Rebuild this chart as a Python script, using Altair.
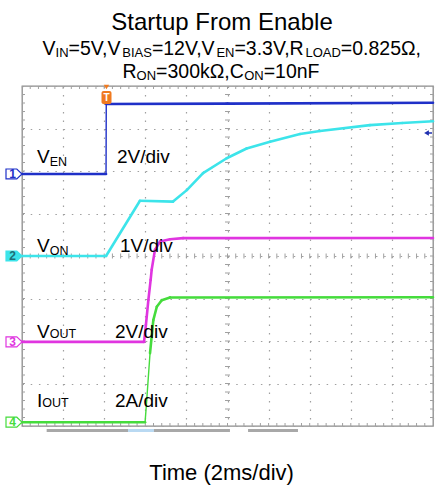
import altair as alt
import pandas as pd

# ---------------- data read from the scope screen ----------------
# time in ms (2 ms/div, 10 divisions), values in physical units
ven_t = [0.0, 4.09, 4.10, 10.0, 20.0]
ven_v = [0.0, 0.0, 3.29, 3.31, 3.35]

von_t = [0.0, 4.09, 5.74, 7.35, 8.02, 8.81, 9.96, 10.93, 12.07, 13.53, 14.50, 16.93, 18.50, 20.0]
von_v = [0.0, 0.0, 1.30, 1.28, 1.55, 1.95, 2.30, 2.53, 2.69, 2.87, 2.94, 3.08, 3.13, 3.17]

vout_t = [0.0, 5.94, 6.03, 6.15, 6.26, 6.31, 6.47, 6.72, 7.20, 7.84, 20.0]
vout_v = [0.0, 0.0, 0.80, 1.98, 2.92, 3.39, 4.33, 4.72, 4.83, 4.88, 4.89]

iout_t = [0.0, 5.99, 6.07, 6.23, 6.39, 6.56, 6.80, 7.20, 20.0]
iout_a = [0.0, 0.0, 1.04, 3.25, 4.80, 5.43, 5.74, 5.87, 5.88]

ch_names = ["VEN", "VON", "VOUT", "IOUT"]
ch_per_div = [2.0, 1.0, 2.0, 2.0]        # units per division
ch_ground = [5.93, 4.0, 1.98, 0.09]      # ground marker level (div from bottom)
ch_colors = ["#1f30c8", "#3ce4ea", "#e035e0", "#45dc3c"]
ch_digits = ["1", "2", "3", "4"]

trigger_t = 4.09
title = "Startup From Enable"
sub1 = [("V", "m"), ("IN", "s"), ("=5V,V", "m"), ("BIAS", "s"), ("=12V,V", "m"),
        ("EN", "s"), ("=3.3V,R", "m"), ("LOAD", "s"), ("=0.825Ω,", "m")]
sub2 = [("R", "m"), ("ON", "s"), ("=300kΩ,C", "m"), ("ON", "s"), ("=10nF", "m")]
xlabel = "Time (2ms/div)"
lbl_names = [[("V", "m"), ("EN", "s")], [("V", "m"), ("ON", "s")],
             [("V", "m"), ("OUT", "c")], [("I", "m"), ("OUT", "c")]]
lbl_scales = ["2V/div", "1V/div", "2V/div", "2A/div"]

# ---------------- layout helpers ----------------
L, T, W, H = 22, 86, 411, 340
XMAX, YMAX = 20.0, 8.0
FONT = "Liberation Sans"


def px2ms(px):
    return (px - L) / W * XMAX


def py2div(py):
    return (T + H - py) / H * YMAX


ARIAL = {' ': 278, ',': 278, '.': 278, '=': 584, '/': 278, '(': 333, ')': 333,
         'A': 667, 'B': 667, 'C': 722, 'D': 722, 'E': 667, 'F': 611, 'I': 278,
         'L': 556, 'N': 722, 'O': 778, 'R': 722, 'S': 667, 'T': 611, 'U': 722,
         'V': 667, 'a': 556, 'b': 556, 'd': 556, 'e': 556, 'i': 222, 'k': 500,
         'l': 222, 'm': 833, 'n': 556, 'o': 556, 'p': 556, 'r': 333, 's': 500,
         't': 278, 'u': 556, 'v': 500, 'Ω': 768}
for d in "0123456789":
    ARIAL[d] = 556


def text_w(s, size):
    return sum(ARIAL.get(c, 556) for c in s) * size / 1000.0


text_rows = []


def run(pieces, x0, base, big, small, drop=3.0, center=False, color="#000000"):
    sizes = [big if k == "m" else small for _, k in pieces]
    widths = [text_w(t, s) for (t, _), s in zip(pieces, sizes)]
    x = x0 - sum(widths) / 2 if center else x0
    for (t, k), s, w in zip(pieces, sizes, widths):
        y = base + (drop if k == "s" else 0)
        text_rows.append({"x": px2ms(x), "y": py2div(y), "text": t, "size": s, "color": color})
        x += w


run([(title, "m")], 222, 30, 24, 24, center=True)
run(sub1, 232, 54.5, 19.5, 13, drop=2.0, center=True)
run(sub2, 221, 78, 19.5, 13, drop=2.0, center=True)
run([(xlabel, "m")], 222, 480, 22, 22, center=True)
lbl_base = [163, 252, 338, 407]
lbl_x2 = [117, 120, 115, 115]
for pieces, sc, b, x2 in zip(lbl_names, lbl_scales, lbl_base, lbl_x2):
    run(pieces, 37, b, 19, 12.5)
    run([(sc, "m")], x2, b, 19, 19)
text_df = pd.DataFrame(text_rows)

xs = alt.Scale(domain=[0, XMAX], nice=False, zero=False)
ys = alt.Scale(domain=[0, YMAX], nice=False, zero=False)
xaxis = alt.Axis(values=list(range(0, 21, 2)), grid=True, labels=False, ticks=False,
                 domain=False, title=None, gridDash=[1.5, 7.0], gridColor="#a0a0a0", gridWidth=1.2)
yaxis = alt.Axis(values=list(range(0, 9)), grid=True, labels=False, ticks=False,
                 domain=False, title=None, gridDash=[1.5, 6.72], gridColor="#a0a0a0", gridWidth=1.2)


def X(f):
    return alt.X(f, type="quantitative", scale=xs, axis=xaxis)


def Y(f):
    return alt.Y(f, type="quantitative", scale=ys, axis=yaxis)


def X2(f):
    return alt.X2(f)


def Y2(f):
    return alt.Y2(f)


layers = []

# scope graticule tick marks (frame edges and centre cross)
segs = []
dx3, dy3 = 3 / W * XMAX, 3 / H * YMAX
dxc, dyc = 2.5 / W * XMAX, 2.5 / H * YMAX
for k in range(1, 50):
    xm = k * 0.4
    segs.append(dict(x=xm, x2=xm, y=YMAX, y2=YMAX - dy3))
    segs.append(dict(x=xm, x2=xm, y=0, y2=dy3))
    segs.append(dict(x=xm, x2=xm, y=4 - dyc, y2=4 + dyc))
for k in range(1, 40):
    yd = k * 0.2
    segs.append(dict(x=0, x2=dx3, y=yd, y2=yd))
    segs.append(dict(x=XMAX, x2=XMAX - dx3, y=yd, y2=yd))
    segs.append(dict(x=10 - dxc, x2=10 + dxc, y=yd, y2=yd))
seg_df = pd.DataFrame(segs)
layers.append(alt.Chart(seg_df).mark_rule(color="#a0a0a0", strokeWidth=1).encode(
    x=X("x"), x2=X2("x2"), y=Y("y"), y2=Y2("y2")))

# record-length bar under the screen
bar_x = [1.20, 5.16, 6.42, 11.0]
bar_x2 = [5.16, 6.42, 10.12, 13.43]
bar_c = ["#a8a8a8", "#b9d9f2", "#a8a8a8", "#a8a8a8"]
bar_df = pd.DataFrame({"x": bar_x, "x2": bar_x2, "y": [py2div(430.5)] * 4, "c": bar_c})
layers.append(alt.Chart(bar_df).mark_rule(strokeWidth=3).encode(
    x=X("x"), x2=X2("x2"), y=Y("y"), color=alt.Color("c:N", scale=None)))

# traces: fast edges are drawn thin, as the scope shows them
series = [(ven_t, ven_v), (von_t, von_v), (vout_t, vout_v), (iout_t, iout_a)]
for (t, v), per, g, col in zip(series, ch_per_div, ch_ground, ch_colors):
    d = [g + vv / per for vv in v]
    rows = []
    for k in range(len(t) - 1):
        dxp = (t[k + 1] - t[k]) / XMAX * W
        dyp = abs(d[k + 1] - d[k]) / YMAX * H
        thin = dxp < 1e-9 or dyp / dxp > 12
        rows.append(dict(t=t[k], d=d[k], t2=t[k + 1], d2=d[k + 1], w=1.4 if thin else 2.6))
    sdf = pd.DataFrame(rows)
    layers.append(alt.Chart(sdf).mark_rule(color=col, strokeCap="round").encode(
        x=X("t"), x2=X2("t2"), y=Y("d"), y2=Y2("d2"),
        strokeWidth=alt.StrokeWidth("w:Q", scale=None)))

# channel ground markers on the left
tag = "M-1,-0.62 L0.35,-0.62 L1,0 L0.35,0.62 L-1,0.62 Z"
mk_df = pd.DataFrame({"x": [px2ms(14.0)] * 4, "y": ch_ground, "c": ch_colors, "d": ch_digits,
                      "fill": ["#ffffff", ch_colors[1], "#ffffff", "#ffffff"],
                      "dc": [ch_colors[0], "#1d6f78", ch_colors[2], ch_colors[3]]})
layers.append(alt.Chart(mk_df).mark_point(shape=tag, size=256, filled=False, strokeWidth=1.2).encode(
    x=X("x"), y=Y("y"), stroke=alt.Stroke("c:N", scale=None), fill=alt.Fill("fill:N", scale=None),
    opacity=alt.value(1), fillOpacity=alt.value(1)))
layers.append(alt.Chart(mk_df).mark_text(font=FONT, fontSize=12, fontWeight="bold", baseline="middle",
                                          align="center").encode(
    x=alt.X("xt:Q", scale=xs, axis=xaxis), y=Y("y"), text="d:N", color=alt.Color("dc:N", scale=None)
).transform_calculate(xt=f"datum.x - {1.5 / W * XMAX}"))

# trigger marker
trg_df = pd.DataFrame({"x": [px2ms(101.5)], "x2": [px2ms(111.5)], "y": [py2div(104)], "y2": [py2div(91)],
                       "xc": [trigger_t + 0.02], "yc": [py2div(97.5)], "yt": [py2div(87)], "s": ["T"]})
layers.append(alt.Chart(trg_df).mark_rect(color="#f07a20", cornerRadius=2).encode(
    x=X("x"), x2=X2("x2"), y=Y("y"), y2=Y2("y2")))
layers.append(alt.Chart(trg_df).mark_point(shape="triangle-down", size=30, filled=True,
                                           color="#f07a20", opacity=1).encode(x=X("xc"), y=Y("yt")))
layers.append(alt.Chart(trg_df).mark_text(font=FONT, fontSize=10, fontWeight="bold", color="white",
                                          baseline="middle", align="center").encode(
    x=X("xc"), y=Y("yc"), text="s:N"))

# ch1 trigger level arrow on the right
lvl_df = pd.DataFrame({"x": [px2ms(426.5)], "x2": [px2ms(432)], "y": [py2div(133)]})
layers.append(alt.Chart(lvl_df).mark_point(shape="triangle-left", size=30, filled=True,
                                           color="#2030b0", opacity=1).encode(x=X("x"), y=Y("y")))
layers.append(alt.Chart(lvl_df).mark_rule(color="#2030b0", strokeWidth=1.5).encode(
    x=X("x"), x2=X2("x2"), y=Y("y")))

# all texts
layers.append(alt.Chart(text_df).mark_text(font=FONT, align="left", baseline="alphabetic").encode(
    x=X("x"), y=Y("y"), text="text:N", size=alt.Size("size:Q", scale=None),
    color=alt.Color("color:N", scale=None)))

chart = alt.layer(*layers).properties(
    width=W, height=H,
    autosize=alt.AutoSizeParams(type="none"),
    padding={"left": L, "top": T, "right": 441 - L - W, "bottom": 488 - T - H},
    background="white",
).configure_view(stroke="#8c8c8c", strokeWidth=1.3)

chart.save("out.html", embed_options={"renderer": "svg", "actions": False})
